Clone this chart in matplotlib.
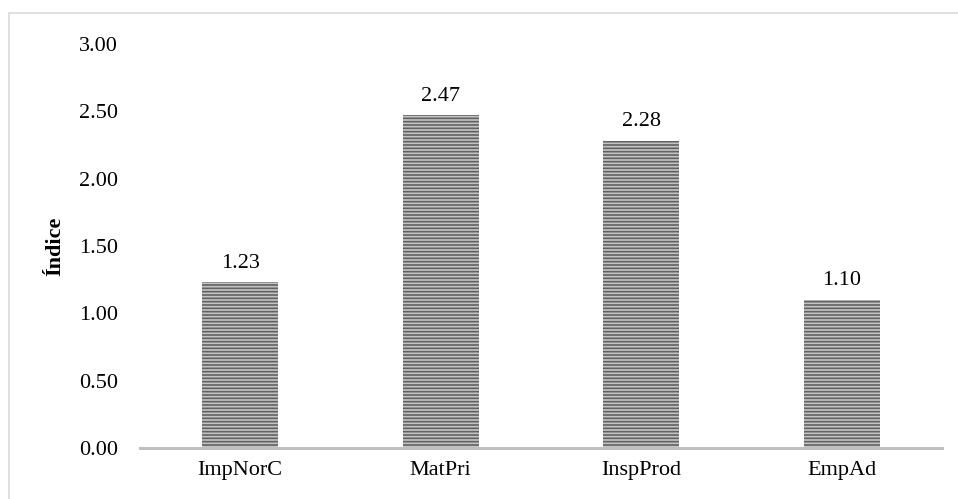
import matplotlib

matplotlib.use("Agg")
import matplotlib.pyplot as plt
from matplotlib.patches import Rectangle

# indice por categoria
categories = ["ImpNorC", "MatPri", "InspProd", "EmpAd"]
values = [1.23, 2.47, 2.28, 1.10]
yticks = [0.0, 0.5, 1.0, 1.5, 2.0, 2.5, 3.0]

plt.rcParams["font.family"] = ["Liberation Serif", "DejaVu Serif"]
plt.rcParams["hatch.linewidth"] = 1.2

FS = 16

fig = plt.figure(figsize=(9.58, 4.99), dpi=100)
ax = fig.add_axes([0.1461, 0.1022, 0.8372, 0.8096])

# chart border (runs off the right/bottom edge)
fig.patches.append(
    Rectangle((8.5 / 958, -0.1), 1.2, 1 - 13.5 / 499 + 0.1,
              transform=fig.transFigure, fill=False,
              edgecolor="#d9d9d9", linewidth=1.2, zorder=0)
)

x = range(len(categories))
bars = ax.bar(x, values, width=0.38, color="#c4c4c4", edgecolor="#626262",
              hatch="-----", linewidth=0, zorder=2)

for b, v in zip(bars, values):
    ax.annotate(f"{v:.2f}", (b.get_x() + b.get_width() / 2, v),
                xytext=(0, 7), textcoords="offset points",
                ha="center", va="bottom", fontsize=FS)

ax.set_xlim(-0.5, len(categories) - 0.5)
ax.set_ylim(0, 3.0)
ax.set_yticks(yticks)
ax.set_yticklabels([f"{t:.2f}" for t in yticks])
ax.set_xticks(list(x))
ax.set_xticklabels(categories)
ax.tick_params(axis="both", length=0, labelsize=FS)
ax.tick_params(axis="y", pad=16)
ax.tick_params(axis="x", pad=9)

for s in ("top", "right", "left"):
    ax.spines[s].set_visible(False)
ax.spines["bottom"].set_color("#bfbfbf")
ax.spines["bottom"].set_linewidth(2.2)

ax.text(-0.105, 0.5, "Índice", transform=ax.transAxes, rotation=90,
        ha="center", va="center", fontsize=FS, fontweight="bold")

fig.savefig("out.png", dpi=100)
